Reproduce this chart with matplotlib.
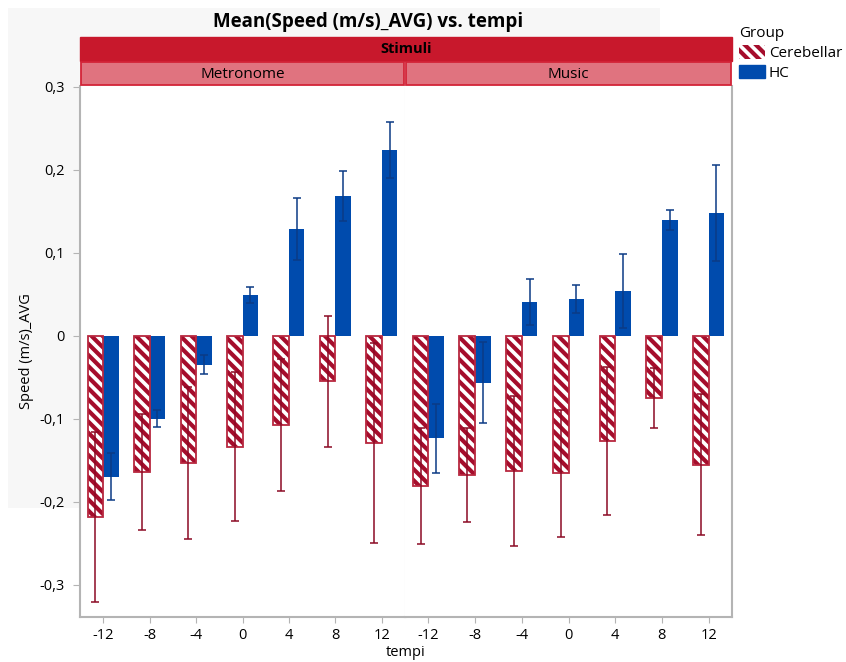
import numpy as np
import matplotlib.pyplot as plt
from matplotlib.patches import Rectangle, Patch

plt.rcParams['font.family'] = ['Open Sans', 'DejaVu Sans']
plt.rcParams['hatch.linewidth'] = 3.0

# Mittelwerte und Fehlerbalken je Stimulus
tempi = ['-12', '-8', '-4', '0', '4', '8', '12']
stimuli = ['Metronome', 'Music']

cereb_metronome = [-0.2185, -0.1643, -0.1534, -0.1333, -0.1076, -0.0546, -0.1293]
cereb_metronome_err = [0.1025, 0.0700, 0.0918, 0.0896, 0.0795, 0.0790, 0.1205]
hc_metronome = [-0.1695, -0.0996, -0.0345, 0.0494, 0.1289, 0.1687, 0.2241]
hc_metronome_err = [0.0285, 0.0106, 0.0117, 0.0102, 0.0370, 0.0303, 0.0341]

cereb_music = [-0.1811, -0.1675, -0.1627, -0.1655, -0.1265, -0.0743, -0.1554]
cereb_music_err = [0.0701, 0.0563, 0.0908, 0.0763, 0.0896, 0.0363, 0.0850]
hc_music = [-0.1233, -0.0562, 0.0410, 0.0446, 0.0542, 0.1398, 0.1482]
hc_music_err = [0.0414, 0.0484, 0.0275, 0.0167, 0.0440, 0.0121, 0.0580]

cereb_vals = [cereb_metronome, cereb_music]
cereb_errs = [cereb_metronome_err, cereb_music_err]
hc_vals = [hc_metronome, hc_music]
hc_errs = [hc_metronome_err, hc_music_err]

W, H = 846, 662
red_dark = '#a50d2c'
red_edge = '#b8283f'
blue = '#004bad'
grey = '#b4b4b4'
stripes = '\\\\\\'


def fx(px):
    return px / W


def fy(py):
    return 1 - py / H


fig = plt.figure(figsize=(W / 100, H / 100), dpi=100)

# hellgrauer Hintergrund hinter Titel
fig.patches.append(Rectangle((fx(8), fy(508)), fx(660) - fx(8), fy(8) - fy(508),
                             transform=fig.transFigure, facecolor='#f7f7f7',
                             edgecolor='none', zorder=-5))

fig.text(fx(368), fy(22), 'Mean(Speed (m/s)_AVG) vs. tempi', ha='center', va='center',
         fontsize=13.5, fontweight='bold')

# Kopfzeilen (Stimuli)
fig.patches.append(Rectangle((fx(80), fy(61)), fx(732) - fx(80), fy(37) - fy(61),
                             transform=fig.transFigure, facecolor='#c8182c',
                             edgecolor='#c8182c', zorder=1))
fig.text(fx(406), fy(49), 'Stimuli', ha='center', va='center', fontsize=10.5,
         fontweight='bold')
for (x0, x1), name in zip([(80, 405), (405, 732)], stimuli):
    fig.patches.append(Rectangle((fx(x0 + 1), fy(85)), fx(x1 - 1) - fx(x0 + 1), fy(62) - fy(85),
                                 transform=fig.transFigure, facecolor='#e0737f',
                                 edgecolor='#d32438', linewidth=1.3, zorder=1))
    fig.text(fx((x0 + x1) / 2), fy(74), name, ha='center', va='center', fontsize=11)

x = np.arange(len(tempi))
w = 0.335
ymin, ymax = -0.3386, 0.3012

axes = []
for i, (x0, x1) in enumerate([(80, 405), (405, 732)]):
    ax = fig.add_axes([fx(x0), fy(617), fx(x1) - fx(x0), fy(86) - fy(617)])
    ax.set_facecolor('white')
    axes.append(ax)
    # Cerebellar: schraffiert + Umriss
    ax.bar(x - w / 2, cereb_vals[i], w, facecolor='white', edgecolor=red_dark,
           hatch=stripes, linewidth=0, zorder=2)
    ax.bar(x - w / 2, cereb_vals[i], w, facecolor='none', edgecolor=red_edge,
           linewidth=1.3, zorder=3)
    ax.errorbar(x - w / 2, cereb_vals[i], yerr=cereb_errs[i], fmt='none',
                ecolor='#8b0a25', elinewidth=1.1, capsize=3, capthick=1.1, zorder=4)
    # HC
    ax.bar(x + w / 2, hc_vals[i], w, color=blue, linewidth=0, zorder=2)
    ax.errorbar(x + w / 2, hc_vals[i], yerr=hc_errs[i], fmt='none',
                ecolor='#0b3b85', elinewidth=1.1, capsize=3, capthick=1.1, zorder=4)

    ax.set_xlim(-0.5, len(tempi) - 0.5)
    ax.set_ylim(ymin, ymax)
    ax.set_xticks(x)
    ax.set_xticklabels(tempi, fontsize=10.5)
    ax.tick_params(axis='x', length=4, color=grey, pad=4)
    ax.spines['top'].set_visible(False)
    ax.spines['bottom'].set_color(grey)
    ax.spines['bottom'].set_linewidth(1.5)
    if i == 0:
        ax.spines['left'].set_color(grey)
        ax.spines['left'].set_linewidth(1.5)
        ax.spines['right'].set_color('#dedede')
        ax.set_yticks([-0.3, -0.2, -0.1, 0, 0.1, 0.2, 0.3])
        ax.set_yticklabels(['-0,3', '-0,2', '-0,1', '0', '0,1', '0,2', '0,3'], fontsize=10.5)
        ax.tick_params(axis='y', length=5, color=grey, pad=6)
        ax.set_ylabel('Speed (m/s)_AVG', fontsize=10.5)
    else:
        ax.spines['left'].set_visible(False)
        ax.spines['right'].set_color(grey)
        ax.spines['right'].set_linewidth(1.5)
        ax.set_yticks([])

fig.text(fx(406), fy(652), 'tempi', ha='center', va='center', fontsize=10.5)

handles = [Patch(facecolor='white', edgecolor=red_dark, hatch=stripes, linewidth=0),
           Patch(facecolor=blue, edgecolor=blue)]
leg = fig.legend(handles, ['Cerebellar', 'HC'], title='Group', loc='upper left',
                 bbox_to_anchor=(fx(733), fy(20)), frameon=False, fontsize=11,
                 title_fontsize=11, handlelength=1.7, handleheight=1.0,
                 handletextpad=0.25, labelspacing=0.25, borderaxespad=0)
leg._legend_box.align = 'left'

fig.savefig('out.png', dpi=100)
